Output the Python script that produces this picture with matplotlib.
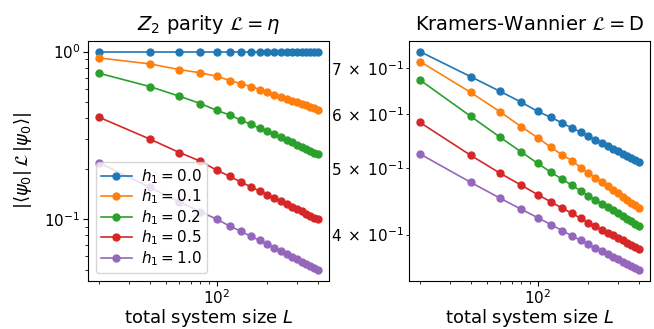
import matplotlib
matplotlib.use("Agg")
import matplotlib.pyplot as plt
from matplotlib.ticker import FuncFormatter
import math

L = [20, 40, 60, 80, 100, 120, 140, 160, 180, 200,
     220, 240, 260, 280, 300, 320, 340, 360, 380, 400]

h_labels = [r"$h_1 = 0.0$", r"$h_1 = 0.1$", r"$h_1 = 0.2$", r"$h_1 = 0.5$", r"$h_1 = 1.0$"]

# Z2 parity panel
z2_h00 = [1.0] * 20
z2_h01 = [0.917, 0.845, 0.781, 0.747, 0.713, 0.672, 0.642, 0.619, 0.594, 0.572,
          0.554, 0.538, 0.523, 0.510, 0.498, 0.488, 0.478, 0.468, 0.460, 0.451]
z2_h02 = [0.743, 0.619, 0.542, 0.490, 0.446, 0.418, 0.389, 0.368, 0.348, 0.336,
          0.322, 0.309, 0.298, 0.288, 0.279, 0.271, 0.263, 0.256, 0.250, 0.244]
z2_h05 = [0.406, 0.301, 0.250, 0.222, 0.196, 0.180, 0.166, 0.156, 0.147, 0.140,
          0.1336, 0.1281, 0.1231, 0.1187, 0.1148, 0.1112, 0.1079, 0.1050, 0.1022, 0.0997]
z2_h10 = [0.2176, 0.155, 0.127, 0.111, 0.100, 0.0908, 0.0845, 0.0789, 0.0747, 0.0710,
          0.0677, 0.0647, 0.0621, 0.0598, 0.0577, 0.0559, 0.0542, 0.0526, 0.0512, 0.0499]

# Kramers-Wannier panel
kw_h00 = [0.7397, 0.680, 0.647, 0.624, 0.605, 0.593, 0.582, 0.572, 0.5646, 0.5564,
          0.550, 0.544, 0.5387, 0.5336, 0.5291, 0.5249, 0.5210, 0.5174, 0.5140, 0.5106]
kw_h01 = [0.7155, 0.645, 0.604, 0.5746, 0.554, 0.5362, 0.5228, 0.5129, 0.5009, 0.4921,
          0.4842, 0.4771, 0.4706, 0.4647, 0.4593, 0.4543, 0.4496, 0.4453, 0.4412, 0.4374]
kw_h02 = [0.6724, 0.5952, 0.5545, 0.5279, 0.5082, 0.4931, 0.4817, 0.4720, 0.4632, 0.4555,
          0.4493, 0.4436, 0.4385, 0.4338, 0.4295, 0.4255, 0.4218, 0.4183, 0.4150, 0.4120]
kw_h05 = [0.5831, 0.5221, 0.4914, 0.4721, 0.4575, 0.4465, 0.4370, 0.4297, 0.4224, 0.4163,
          0.4112, 0.4068, 0.4028, 0.3990, 0.3956, 0.3924, 0.3894, 0.3866, 0.3840, 0.3815]
kw_h10 = [0.5245, 0.4768, 0.4519, 0.4355, 0.4234, 0.4136, 0.4054, 0.3982, 0.3924, 0.3873,
          0.3825, 0.3787, 0.3749, 0.3715, 0.3683, 0.3654, 0.3626, 0.3601, 0.3577, 0.3554]

z2_series = [z2_h00, z2_h01, z2_h02, z2_h05, z2_h10]
kw_series = [kw_h00, kw_h01, kw_h02, kw_h05, kw_h10]

fig = plt.figure(figsize=(6.54, 3.29), dpi=100)
ax1 = fig.add_axes([0.1346, 0.1468, 0.3685, 0.7295])
ax2 = fig.add_axes([0.6254, 0.1468, 0.3685, 0.7295])

for ys, lab in zip(z2_series, h_labels):
    ax1.plot(L, ys, "o-", ms=5, lw=1.2, label=lab)
for ys, lab in zip(kw_series, h_labels):
    ax2.plot(L, ys, "o-", ms=5, lw=1.2, label=lab)

for ax in (ax1, ax2):
    ax.set_xscale("log")
    ax.set_yscale("log")
    ax.set_xlabel(r"total system size $L$", fontsize=13, labelpad=0)
    ax.tick_params(which="both", labelsize=11, pad=2)


def minor_fmt(v, pos):
    e = int(math.floor(math.log10(v) + 1e-9))
    m = int(round(v / 10 ** e))
    return r"$%d\;\times\;10^{%d}$" % (m, e)


ax2.yaxis.set_minor_formatter(FuncFormatter(minor_fmt))

ax1.set_title(r"$Z_2$ parity $\mathcal{L} = \eta$", fontsize=14, pad=8)
ax2.set_title(r"Kramers-Wannier $\mathcal{L} = \mathrm{D}$", fontsize=14, pad=8)
ax1.set_ylabel(r"$|\langle\psi_0|\,\mathcal{L}\,|\psi_0\rangle|$", fontsize=13, labelpad=7)
ax1.legend(loc="lower left", fontsize=11, labelspacing=0.12, borderpad=0.35,
           handletextpad=0.6, borderaxespad=0.5)

fig.savefig("out.png", dpi=100)
